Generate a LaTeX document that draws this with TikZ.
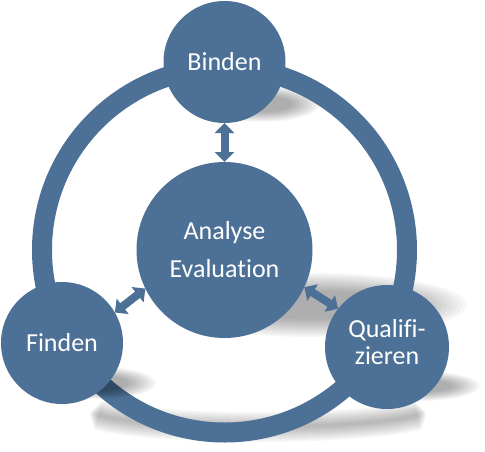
\documentclass[tikz,border=0pt]{standalone}
\usepackage{fontspec}
\setmainfont{Carlito}[Ligatures={NoCommon}]
\usetikzlibrary{arrows.meta}
\definecolor{steel}{RGB}{77,113,150}
\begin{document}
\begin{tikzpicture}[x=1pt,y=-1pt,
  bub/.style={circle,fill=steel,inner sep=0pt,outer sep=0pt,text=white,align=center,font=\fontsize{26}{31}\selectfont},
  dbl/.style={steel,line width=8pt,{Triangle[width=19pt,length=10pt]}-{Triangle[width=19pt,length=10pt]}},
  shd/.style={black,opacity=0.03},
  ringline/.style={steel,line width=20pt}]
\useasboundingbox (0,0) rectangle (485,451);
% shadows under the ring
\foreach \i in {0,...,11}{
  \fill[shd] (313,305) ellipse [x radius={154-5*\i}, y radius={32-1.6*\i}];
  \fill[shd] (262,104) ellipse [x radius={58-2.5*\i}, y radius={18-0.9*\i}];
}
\foreach \w in {30,27,...,3}{
  \draw[black,opacity=0.03,line width=\w pt] plot[domain={12+\w/3}:{168-\w/3},samples=50,smooth] ({258+172*cos(\x)},{408+19*sin(\x)});
}
% ring
\draw[ringline] (224.5,250) circle [radius=182.5];
% shadows of the small circles (over the ring)
\foreach \i in {0,...,11}{
  \fill[shd] (100,383) ellipse [x radius={56-2.5*\i}, y radius={16-0.8*\i}];
  \fill[shd] (418,386) ellipse [x radius={62-2.6*\i}, y radius={15-0.75*\i}];
}
% circles
\node[bub,minimum size=122pt] (B) at (224.5,62) {Binden};
\node[bub,minimum size=176pt] (C) at (224.5,250) {Analyse\\[7pt]Evaluation};
\node[bub,minimum size=122pt] (F) at (62,343) {Finden};
\node[bub,minimum size=124pt,text depth=10pt] (Q) at (387,347) {Qualifi-\\[-4pt]zieren};
% arrows
\draw[dbl] (B.south) -- (C.north);
\draw[dbl] (F.30) -- (C.206);
\draw[dbl] (Q.142) -- (C.-25);
\end{tikzpicture}
\end{document}
